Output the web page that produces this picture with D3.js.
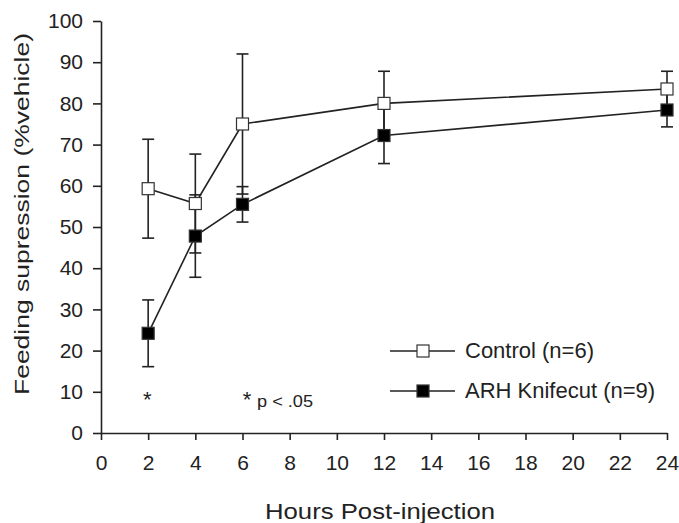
<!DOCTYPE html>
<html lang="en">
<head>
<meta charset="UTF-8">
<title>Feeding suppression</title>
<script src="https://d3js.org/d3.v7.min.js"></script>
<style>
  body { margin: 0; background: #fff; }
  text { font-family: "Liberation Sans", Arial, sans-serif; fill: #222; }
</style>
</head>
<body>
<div id="chart"></div>
<script>
// data
const hours = [2, 4, 6, 12, 24];
const controlMean = [59.3, 55.7, 75.0, 80.0, 83.5];
const controlErr  = [12.0, 12.0, 17.0, 7.8, 4.3];
const knifeMean   = [24.2, 47.8, 55.5, 72.2, 78.4];
const knifeErr    = [8.1, 10.0, 4.3, 6.8, 4.1];
const xTicks = d3.range(0, 25, 2);
const yTicks = d3.range(0, 101, 10);

const series = [
  {name: "Control (n=6)", mean: controlMean, err: controlErr, fill: "#fff"},
  {name: "ARH Knifecut (n=9)", mean: knifeMean, err: knifeErr, fill: "#000"}
];

const W = 679, H = 523;
const margin = {top: 21, right: 12, bottom: 90, left: 101};

const svg = d3.select("#chart").append("svg")
    .attr("width", W).attr("height", H);

const x = d3.scaleLinear().domain([0, 24]).range([margin.left, W - margin.right]);
const y = d3.scaleLinear().domain([0, 100]).range([H - margin.bottom, margin.top]);

// axes
const xAxis = svg.append("g")
    .attr("transform", `translate(0, ${y(0)})`)
    .call(d3.axisBottom(x).tickValues(xTicks).tickSize(7).tickPadding(15).tickSizeOuter(0));
const yAxis = svg.append("g")
    .attr("transform", `translate(${x(0)}, 0)`)
    .call(d3.axisLeft(y).tickValues(yTicks).tickSize(8).tickPadding(10).tickSizeOuter(0));
[xAxis, yAxis].forEach(g => {
  g.selectAll("path, line").attr("stroke", "#222").attr("stroke-width", 1.6);
  g.selectAll("text").style("font-size", "21px").attr("fill", "#222");
});

// error bars
const cap = 6;
series.forEach(s => {
  const g = svg.append("g");
  hours.forEach((h, i) => {
    const lo = s.mean[i] - s.err[i], hi = s.mean[i] + s.err[i];
    g.append("line").attr("x1", x(h)).attr("x2", x(h))
      .attr("y1", y(lo)).attr("y2", y(hi))
      .attr("stroke", "#222").attr("stroke-width", 1.6);
    [lo, hi].forEach(v => g.append("line")
      .attr("x1", x(h) - cap).attr("x2", x(h) + cap)
      .attr("y1", y(v)).attr("y2", y(v))
      .attr("stroke", "#222").attr("stroke-width", 1.6));
  });
});

// lines and markers
const line = d3.line().x((d, i) => x(hours[i])).y(d => y(d));
series.forEach(s => {
  svg.append("path").datum(s.mean)
    .attr("d", line).attr("fill", "none")
    .attr("stroke", "#222").attr("stroke-width", 1.6);
});
series.forEach(s => {
  svg.selectAll(null).data(s.mean).join("rect")
    .attr("x", (d, i) => x(hours[i]) - 6)
    .attr("y", d => y(d) - 6)
    .attr("width", 12).attr("height", 12)
    .attr("fill", s.fill).attr("stroke", "#333").attr("stroke-width", 1.2);
});

// significance marks
svg.append("text").attr("x", x(2) - 1).attr("y", 407)
  .attr("text-anchor", "middle").style("font-size", "22px").text("*");
svg.append("text").attr("x", 247).attr("y", 407)
  .attr("text-anchor", "middle").style("font-size", "22px").text("*");
svg.append("text").attr("x", 257).attr("y", 407)
  .attr("textLength", 56).attr("lengthAdjust", "spacingAndGlyphs")
  .style("font-size", "17px").text("p < .05");

// legend
const leg = svg.append("g").attr("transform", "translate(390, 351)");
series.forEach((s, i) => {
  const row = leg.append("g").attr("transform", `translate(0, ${i * 40})`);
  row.append("line").attr("x1", 0).attr("x2", 65)
    .attr("stroke", "#222").attr("stroke-width", 1.6);
  row.append("rect").attr("x", 27).attr("y", -6).attr("width", 12).attr("height", 12)
    .attr("fill", s.fill).attr("stroke", "#333").attr("stroke-width", 1.2);
  row.append("text").attr("x", 75).attr("y", 7).style("font-size", "22px").text(s.name);
});

// axis titles
svg.append("text").attr("x", 380).attr("y", 519)
  .attr("text-anchor", "middle").style("font-size", "22px")
  .attr("textLength", 230).attr("lengthAdjust", "spacingAndGlyphs")
  .text("Hours Post-injection");
svg.append("text")
  .attr("transform", "translate(29, 214) rotate(-90)")
  .attr("text-anchor", "middle").style("font-size", "21px")
  .attr("textLength", 362).attr("lengthAdjust", "spacingAndGlyphs")
  .text("Feeding supression (%vehicle)");
</script>
</body>
</html>
